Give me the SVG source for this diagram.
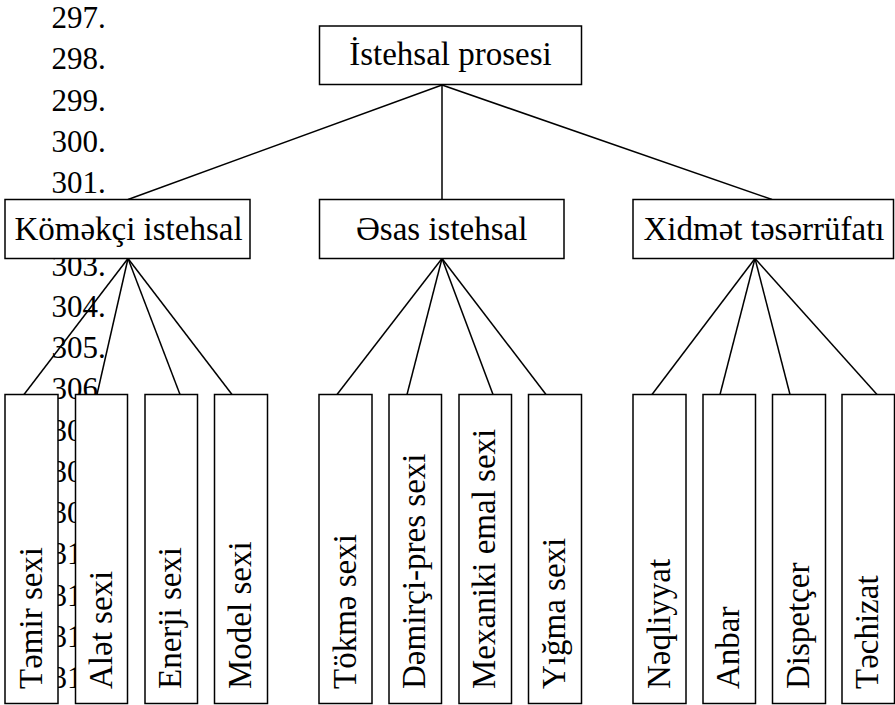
<svg xmlns="http://www.w3.org/2000/svg" width="895" height="705" viewBox="0 0 895 705">
<style>
text{font-family:"Liberation Serif","Times New Roman",serif;fill:#000}
.num{font-size:31px}
.lbl{font-size:33px;text-anchor:middle}
.vl{font-size:33px}
.box{fill:#fff;stroke:#000;stroke-width:1.5}
.conn line{stroke:#000;stroke-width:1.5}
</style>
<rect width="895" height="705" fill="#fff"/>
<g id="line-numbers" class="num">
<text x="51.5" y="28">297.</text>
<text x="51.5" y="69.3">298.</text>
<text x="51.5" y="110.5">299.</text>
<text x="51.5" y="151.8">300.</text>
<text x="51.5" y="193">301.</text>
<text x="51.5" y="275.5">303.</text>
<text x="51.5" y="316.8">304.</text>
<text x="51.5" y="358">305.</text>
<text x="51.5" y="399.3">306.</text>
<text x="51.5" y="440.5">307.</text>
<text x="51.5" y="481.8">308.</text>
<text x="51.5" y="523">309.</text>
<text x="51.5" y="564.3">310.</text>
<text x="51.5" y="605.5">311.</text>
<text x="51.5" y="646.8">312.</text>
<text x="51.5" y="688">313.</text>
</g>
<g id="connectors" class="conn">
<line x1="442" y1="85" x2="128" y2="199.5"/>
<line x1="442" y1="85" x2="442" y2="199.5"/>
<line x1="442" y1="85" x2="772" y2="199.5"/>
<line x1="128" y1="258.5" x2="24" y2="394.5"/>
<line x1="128" y1="258.5" x2="97" y2="394.5"/>
<line x1="128" y1="258.5" x2="180" y2="394.5"/>
<line x1="128" y1="258.5" x2="232" y2="394.5"/>
<line x1="442" y1="258.5" x2="337" y2="394.5"/>
<line x1="442" y1="258.5" x2="407" y2="394.5"/>
<line x1="442" y1="258.5" x2="493" y2="394.5"/>
<line x1="442" y1="258.5" x2="546" y2="394.5"/>
<line x1="755" y1="258.5" x2="652" y2="394.5"/>
<line x1="755" y1="258.5" x2="720" y2="394.5"/>
<line x1="755" y1="258.5" x2="790" y2="394.5"/>
<line x1="755" y1="258.5" x2="877" y2="394.5"/>
</g>
<g id="istehsal-prosesi"><rect class="box" x="319.5" y="26" width="262" height="58.5"/><text class="lbl" x="450.5" y="65">İstehsal prosesi</text></g>
<g id="komekci-istehsal"><rect class="box" x="5" y="199.5" width="245" height="59"/><text class="lbl" x="128.5" y="240">Köməkçi istehsal</text></g>
<g id="esas-istehsal"><rect class="box" x="319.5" y="199.5" width="244.5" height="59"/><text class="lbl" x="441.7" y="240">Əsas istehsal</text></g>
<g id="xidmet-teserrufati"><rect class="box" x="633" y="199.5" width="260.5" height="59"/><text class="lbl" x="764" y="240">Xidmət təsərrüfatı</text></g>
<g id="temir-sexi"><rect class="box" x="5" y="394.5" width="53" height="309"/><text class="vl" transform="translate(41.5,689) rotate(-90)">Təmir sexi</text></g>
<g id="alet-sexi"><rect class="box" x="75.5" y="394.5" width="52" height="309"/><text class="vl" transform="translate(111.5,689) rotate(-90)">Alət sexi</text></g>
<g id="enerji-sexi"><rect class="box" x="145" y="394.5" width="52.5" height="309"/><text class="vl" transform="translate(181,689) rotate(-90)">Enerji sexi</text></g>
<g id="model-sexi"><rect class="box" x="214.5" y="394.5" width="53" height="309"/><text class="vl" transform="translate(251,689) rotate(-90)">Model sexi</text></g>
<g id="tokme-sexi"><rect class="box" x="319" y="394.5" width="53" height="309"/><text class="vl" transform="translate(355.5,689) rotate(-90)">Tökmə sexi</text></g>
<g id="demirci-pres-sexi"><rect class="box" x="389" y="394.5" width="52.5" height="309"/><text class="vl" transform="translate(425,689) rotate(-90)">Dəmirçi-pres sexi</text></g>
<g id="mexaniki-emal-sexi"><rect class="box" x="459" y="394.5" width="52.5" height="309"/><text class="vl" transform="translate(495,689) rotate(-90)">Mexaniki emal sexi</text></g>
<g id="yigma-sexi"><rect class="box" x="528.5" y="394.5" width="53" height="309"/><text class="vl" transform="translate(565,689) rotate(-90)">Yığma sexi</text></g>
<g id="neqliyyat"><rect class="box" x="633" y="394.5" width="53" height="309"/><text class="vl" transform="translate(669.5,689) rotate(-90)">Nəqliyyat</text></g>
<g id="anbar"><rect class="box" x="703" y="394.5" width="52.5" height="309"/><text class="vl" transform="translate(739,689) rotate(-90)">Anbar</text></g>
<g id="dispetcer"><rect class="box" x="772.5" y="394.5" width="53" height="309"/><text class="vl" transform="translate(809,689) rotate(-90)">Dispetçer</text></g>
<g id="techizat"><rect class="box" x="842" y="394.5" width="52.5" height="309"/><text class="vl" transform="translate(878,689) rotate(-90)">Təchizat</text></g>
</svg>
